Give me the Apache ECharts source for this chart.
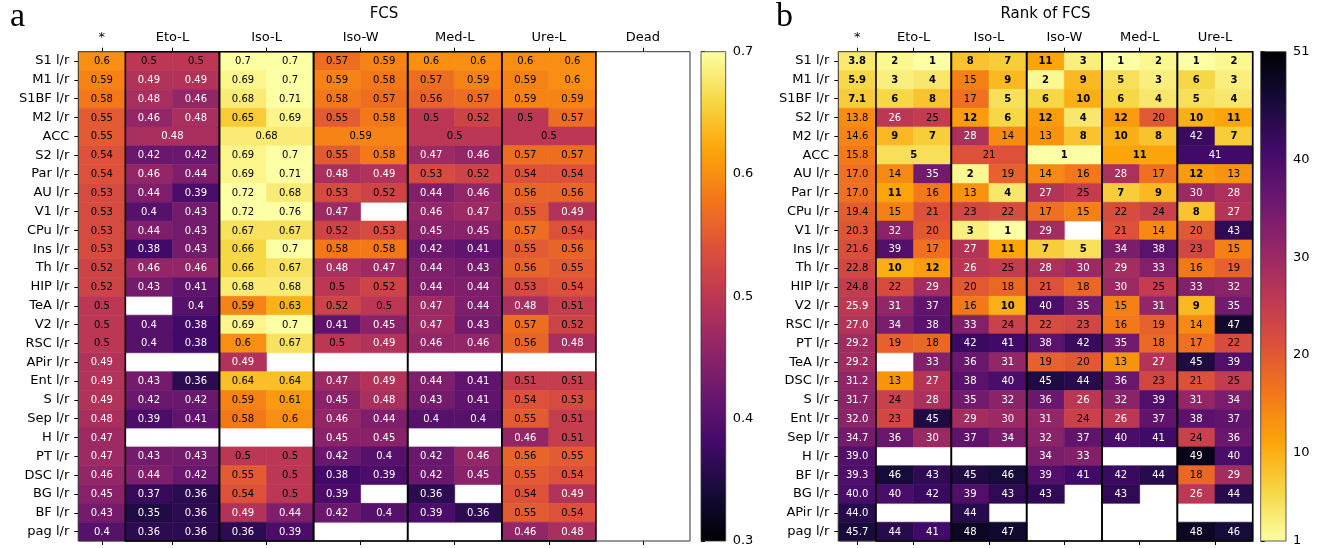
<!DOCTYPE html>
<html>
<head>
<meta charset="utf-8">
<script src="https://cdn.jsdelivr.net/npm/echarts@6/dist/echarts.min.js"></script>
<style>
  html, body { margin: 0; padding: 0; background: #fff; }
  #chart { width: 1320px; height: 548px; }
</style>
</head>
<body>
<div id="chart"></div>
<script>
// ---------- Panel a: FCS ----------
const fcsRows = ['S1 l/r','M1 l/r','S1BF l/r','M2 l/r','ACC','S2 l/r','Par l/r','AU l/r','V1 l/r','CPu l/r',
  'Ins l/r','Th l/r','HIP l/r','TeA l/r','V2 l/r','RSC l/r','APir l/r','Ent l/r','S l/r','Sep l/r',
  'H l/r','PT l/r','DSC l/r','BG l/r','BF l/r','pag l/r'];
const fcsGroupNames = ['Eto-L','Iso-L','Iso-W','Med-L','Ure-L','Dead'];
const fcsAll = [0.6,0.59,0.58,0.55,0.55,0.54,0.54,0.53,0.53,0.53,0.53,0.52,0.52,0.5,0.5,0.5,0.49,0.49,0.49,0.48,
  0.47,0.47,0.46,0.45,0.43,0.4];
// a pair = left / right hemisphere, a single number = one bilateral value
const fcsEtoL = [[0.5,0.5],[0.49,0.49],[0.48,0.46],[0.46,0.48],0.48,[0.42,0.42],[0.46,0.44],[0.44,0.39],[0.4,0.43],[0.44,0.43],
  [0.38,0.43],[0.46,0.46],[0.43,0.41],[null,0.4],[0.4,0.38],[0.4,0.38],[null,null],[0.43,0.36],[0.42,0.42],[0.39,0.41],
  [null,null],[0.43,0.43],[0.44,0.42],[0.37,0.36],[0.35,0.36],[0.36,0.36]];
const fcsIsoL = [[0.7,0.7],[0.69,0.7],[0.68,0.71],[0.65,0.69],0.68,[0.69,0.7],[0.69,0.71],[0.72,0.68],[0.72,0.76],[0.67,0.67],
  [0.66,0.7],[0.66,0.67],[0.68,0.68],[0.59,0.63],[0.69,0.7],[0.6,0.67],[0.49,null],[0.64,0.64],[0.59,0.61],[0.58,0.6],
  [null,null],[0.5,0.5],[0.55,0.5],[0.54,0.5],[0.49,0.44],[0.36,0.39]];
const fcsIsoW = [[0.57,0.59],[0.59,0.58],[0.58,0.57],[0.55,0.58],0.59,[0.55,0.58],[0.48,0.49],[0.53,0.52],[0.47,null],[0.52,0.53],
  [0.58,0.58],[0.48,0.47],[0.5,0.52],[0.52,0.5],[0.41,0.45],[0.5,0.49],[null,null],[0.47,0.49],[0.45,0.48],[0.46,0.44],
  [0.45,0.45],[0.42,0.4],[0.38,0.39],[0.39,null],[0.42,0.4],[null,null]];
const fcsMedL = [[0.6,0.6],[0.57,0.59],[0.56,0.57],[0.5,0.52],0.5,[0.47,0.46],[0.53,0.52],[0.44,0.46],[0.46,0.47],[0.45,0.45],
  [0.42,0.41],[0.44,0.43],[0.44,0.44],[0.47,0.44],[0.47,0.43],[0.46,0.46],[null,null],[0.44,0.41],[0.43,0.41],[0.4,0.4],
  [null,null],[0.42,0.46],[0.42,0.45],[0.36,null],[0.39,0.36],[null,null]];
const fcsUreL = [[0.6,0.6],[0.59,0.6],[0.59,0.59],[0.5,0.57],0.5,[0.57,0.57],[0.54,0.54],[0.56,0.56],[0.55,0.49],[0.57,0.54],
  [0.55,0.56],[0.56,0.55],[0.53,0.54],[0.48,0.51],[0.57,0.52],[0.56,0.48],[null,null],[0.51,0.51],[0.54,0.53],[0.55,0.51],
  [0.46,0.51],[0.56,0.55],[0.55,0.54],[0.54,0.49],[0.55,0.54],[0.46,0.48]];
const fcsDead = fcsRows.map(() => [null, null]);
const fcsTicks = [0.3, 0.4, 0.5, 0.6, 0.7];

// ---------- Panel b: rank of FCS ----------
const rankRows = ['S1 l/r','M1 l/r','S1BF l/r','S2 l/r','M2 l/r','ACC','AU l/r','Par l/r','CPu l/r','V1 l/r',
  'Ins l/r','Th l/r','HIP l/r','V2 l/r','RSC l/r','PT l/r','TeA l/r','DSC l/r','S l/r','Ent l/r',
  'Sep l/r','H l/r','BF l/r','BG l/r','APir l/r','pag l/r'];
const rankGroupNames = ['Eto-L','Iso-L','Iso-W','Med-L','Ure-L'];
const rankAll = [3.8,5.9,7.1,13.8,14.6,15.8,17.0,17.0,19.4,20.3,21.6,22.8,24.8,25.9,27.0,29.2,29.2,31.2,31.7,32.0,
  34.7,39.0,39.3,40.0,44.0,45.7];
const rankEtoL = [[2,1],[3,4],[6,8],[26,25],[9,7],5,[14,35],[11,16],[15,21],[32,20],
  [39,17],[10,12],[22,29],[31,37],[34,38],[19,18],[null,33],[13,27],[24,28],[23,45],
  [36,30],[null,null],[46,43],[40,42],[null,null],[44,41]];
const rankIsoL = [[8,7],[15,9],[17,5],[12,6],[28,14],21,[2,19],[13,4],[23,22],[3,1],
  [27,11],[26,25],[20,18],[16,10],[33,24],[42,41],[36,31],[38,40],[35,32],[29,30],
  [37,34],[null,null],[45,46],[39,43],[44,null],[48,47]];
const rankIsoW = [[11,3],[2,9],[6,10],[12,4],[13,8],1,[14,16],[27,25],[17,15],[29,null],
  [7,5],[28,30],[21,18],[40,35],[22,23],[38,42],[19,20],[45,44],[36,26],[31,24],
  [32,37],[34,33],[39,41],[43,null],[null,null],[null,null]];
const rankMedL = [[1,2],[5,3],[6,4],[12,20],[10,8],11,[28,17],[7,9],[22,24],[21,14],
  [34,38],[29,33],[30,25],[15,31],[16,19],[35,18],[13,27],[36,23],[32,39],[26,37],
  [40,41],[null,null],[42,44],[43,null],[null,null],[null,null]];
const rankUreL = [[1,2],[6,3],[5,4],[10,11],[42,7],41,[12,13],[30,28],[8,27],[20,43],
  [23,15],[16,19],[33,32],[9,35],[14,47],[17,22],[45,39],[21,25],[31,34],[38,37],
  [24,36],[49,40],[18,29],[26,44],[null,null],[48,46]];
const rankTicks = [1, 10, 20, 30, 40, 51];

// ---------- colour map (inferno) ----------
const INFERNO = ['#000004','#160b39','#420a68','#6a176e','#932667','#bc3754',
  '#dd513a','#f37819','#fca50a','#f6d746','#fcffa4'];
function hexRgb(h) { return [1,3,5].map(i => parseInt(h.substr(i, 2), 16)); }
const INFERNO_RGB = INFERNO.map(hexRgb);
function inferno(t) {
  t = Math.max(0, Math.min(1, t));
  const s = t * (INFERNO_RGB.length - 1);
  const i = Math.min(Math.floor(s), INFERNO_RGB.length - 2);
  const f = s - i;
  const a = INFERNO_RGB[i], b = INFERNO_RGB[i + 1];
  const c = a.map((v, k) => Math.round(v + (b[k] - v) * f));
  return 'rgb(' + c.join(',') + ')';
}
function gradientStops(reverse) {
  const stops = [];
  for (let i = 0; i <= 40; i++) {
    const o = i / 40;
    stops.push({ offset: o, color: inferno(reverse ? o : 1 - o) });
  }
  return stops;
}

// ---------- cell items: [x0, x1, row, value, isStarColumn] ----------
function buildCells(allCol, groups) {
  const items = [];
  allCol.forEach((v, r) => items.push([0, 1, r, v, 1]));
  groups.forEach((g, gi) => {
    const x = 1 + gi * 2;
    g.forEach((cell, r) => {
      if (Array.isArray(cell)) {
        if (cell[0] != null) items.push([x, x + 1, r, cell[0], 0]);
        if (cell[1] != null) items.push([x + 1, x + 2, r, cell[1], 0]);
      } else if (cell != null) {
        items.push([x, x + 2, r, cell, 0]);
      }
    });
  });
  return items;
}
function groupFrames(nGroups) {
  const items = [];
  for (let gi = 0; gi < nGroups; gi++) items.push([1 + gi * 2, 3 + gi * 2, 0]);
  return items;
}

const FONT = '"DejaVu Sans", "Liberation Sans", sans-serif';

function cellRenderer(norm, isDark, fmt, isBold) {
  return function (params, api) {
    const x0 = api.value(0), x1 = api.value(1), r = api.value(2), v = api.value(3), star = api.value(4);
    const a = api.coord([x0, r]), b = api.coord([x1, r]);
    const h = api.size([0, 1])[1];
    const fill = inferno(norm(v));
    return {
      type: 'group',
      children: [
        { type: 'rect', shape: { x: a[0], y: a[1] - h / 2, width: b[0] - a[0], height: h },
          style: { fill: fill, stroke: fill, lineWidth: 0.6 } },
        { type: 'text', x: (a[0] + b[0]) / 2, y: a[1] + 0.5,
          style: { text: fmt(v, star), fill: isDark(v) ? '#000' : '#fff',
                   font: (isBold(v) ? 'bold ' : '') + '10px ' + FONT,
                   align: 'center', verticalAlign: 'middle' } }
      ]
    };
  };
}
function frameRenderer(nRows, totalCols) {
  return function (params, api) {
    const x0 = api.value(0), x1 = api.value(1);
    const a = api.coord([x0, 0]), b = api.coord([x1, nRows - 1]);
    const h = api.size([0, 1])[1];
    const outer = (x0 === 0 && x1 === totalCols);
    return { type: 'rect', z2: outer ? 5 : 10,
      shape: { x: a[0], y: a[1] - h / 2, width: b[0] - a[0], height: b[1] - a[1] + h },
      style: { fill: null, stroke: outer ? '#333' : '#000', lineWidth: outer ? 1 : 1.6 } };
  };
}
function colorbarRenderer(reverse) {
  return function (params, api) {
    const a = api.coord([api.value(0), api.value(3)]);
    const b = api.coord([api.value(1), api.value(2)]);
    return { type: 'rect',
      shape: { x: a[0], y: a[1], width: b[0] - a[0], height: b[1] - a[1] },
      style: { fill: new echarts.graphic.LinearGradient(0, 0, 0, 1, gradientStops(reverse)),
               stroke: '#333', lineWidth: 0.8 } };
  };
}

// column label positions (centre of each column block)
function colPositions(nGroups) {
  const p = [0.5];
  for (let gi = 0; gi < nGroups; gi++) p.push(2 + gi * 2);
  return p;
}
const fcsPos = colPositions(fcsGroupNames.length);
const fcsNames = ['*'].concat(fcsGroupNames);
const rankPos = colPositions(rankGroupNames.length);
const rankNames = ['*'].concat(rankGroupNames);
function nameAt(pos, names) {
  return v => { const i = pos.findIndex(p => Math.abs(p - v) < 1e-6); return i >= 0 ? names[i] : ''; };
}

const fcsCols = 1 + fcsGroupNames.length * 2;
const rankCols = 1 + rankGroupNames.length * 2;

const GRID_TOP = 51.7, GRID_H = 489.3;

function topAxis(gridIndex, max, pos, names) {
  return { gridIndex, type: 'value', min: 0, max, position: 'top',
    axisLine: { show: false }, splitLine: { show: false },
    axisTick: { show: true, customValues: pos, length: 4, lineStyle: { color: '#000', width: 1 } },
    axisLabel: { customValues: pos, formatter: nameAt(pos, names), fontSize: 13, fontFamily: FONT, color: '#000', margin: 8 } };
}
function bottomAxis(gridIndex, max, pos) {
  return { gridIndex, type: 'value', min: 0, max, position: 'bottom',
    axisLine: { show: false }, splitLine: { show: false },
    axisTick: { show: true, customValues: pos, length: 4, lineStyle: { color: '#000', width: 1 } },
    axisLabel: { show: false } };
}
function rowAxis(gridIndex, rows) {
  return { gridIndex, type: 'category', data: rows, inverse: true,
    axisLine: { show: false }, splitLine: { show: false },
    axisTick: { show: true, alignWithLabel: true, length: 4, lineStyle: { color: '#000', width: 1 } },
    axisLabel: { fontSize: 13, fontFamily: FONT, color: '#000', margin: 9 } };
}
function barAxis(gridIndex, min, max, ticks, fmt) {
  return { gridIndex, type: 'value', min, max, position: 'right',
    axisLine: { show: false }, splitLine: { show: false },
    axisTick: { show: true, customValues: ticks, length: 4, lineStyle: { color: '#000', width: 1 } },
    axisLabel: { customValues: ticks, formatter: fmt, fontSize: 13, fontFamily: FONT, color: '#000', margin: 7 } };
}
function hiddenAxis(gridIndex) {
  return { gridIndex, type: 'value', min: 0, max: 1, show: false };
}

const chart = echarts.init(document.getElementById('chart'), null, { renderer: 'canvas' });
chart.setOption({
  animation: false,
  backgroundColor: '#fff',
  grid: [
    { left: 78.3, top: GRID_TOP, width: 611.7, height: GRID_H },
    { left: 701, top: GRID_TOP, width: 24.7, height: GRID_H },
    { left: 838.3, top: GRID_TOP, width: 414.4, height: GRID_H },
    { left: 1260.7, top: GRID_TOP, width: 25.3, height: GRID_H }
  ],
  xAxis: [
    topAxis(0, fcsCols, fcsPos, fcsNames),
    bottomAxis(0, fcsCols, fcsPos),
    hiddenAxis(1),
    topAxis(2, rankCols, rankPos, rankNames),
    bottomAxis(2, rankCols, rankPos),
    hiddenAxis(3)
  ],
  yAxis: [
    rowAxis(0, fcsRows),
    barAxis(1, 0.3, 0.7, fcsTicks, v => v.toFixed(1)),
    rowAxis(2, rankRows),
    barAxis(3, 1, 51, rankTicks, v => String(Math.round(v)))
  ],
  graphic: [
    { type: 'text', left: null, x: 10, y: 17.5, style: { text: 'a', font: '34px "Liberation Serif", serif', fill: '#000', align: 'left', verticalAlign: 'middle' } },
    { type: 'text', x: 776, y: 17.5, style: { text: 'b', font: '34px "Liberation Serif", serif', fill: '#000', align: 'left', verticalAlign: 'middle' } },
    { type: 'text', x: 384, y: 14, style: { text: 'FCS', font: '15px ' + FONT, fill: '#000', align: 'center', verticalAlign: 'middle' } },
    { type: 'text', x: 1045.5, y: 14, style: { text: 'Rank of FCS', font: '15px ' + FONT, fill: '#000', align: 'center', verticalAlign: 'middle' } }
  ],
  series: [
    { type: 'custom', name: 'FCS', xAxisIndex: 0, yAxisIndex: 0,
      encode: { x: [0, 1], y: 2 },
      data: buildCells(fcsAll, [fcsEtoL, fcsIsoL, fcsIsoW, fcsMedL, fcsUreL, fcsDead]),
      renderItem: cellRenderer(v => (v - 0.3) / 0.4, v => v >= 0.5, v => String(v), () => false) },
    { type: 'custom', name: 'FCS blocks', xAxisIndex: 0, yAxisIndex: 0, z: 3,
      encode: { x: [0, 1], y: 2 },
      data: groupFrames(fcsGroupNames.length - 1).concat([[0, fcsCols, 0]]),
      renderItem: frameRenderer(fcsRows.length, fcsCols) },
    { type: 'custom', name: 'FCS scale', xAxisIndex: 2, yAxisIndex: 1,
      encode: { x: [0, 1], y: [2, 3] },
      data: [[0, 1, 0.3, 0.7]],
      renderItem: colorbarRenderer(false) },
    { type: 'custom', name: 'Rank of FCS', xAxisIndex: 3, yAxisIndex: 2,
      encode: { x: [0, 1], y: 2 },
      data: buildCells(rankAll, [rankEtoL, rankIsoL, rankIsoW, rankMedL, rankUreL]),
      renderItem: cellRenderer(v => 1 - (v - 1) / 50, v => v <= 25.5,
        (v, star) => star ? v.toFixed(1) : String(v), v => v <= 12) },
    { type: 'custom', name: 'Rank blocks', xAxisIndex: 3, yAxisIndex: 2, z: 3,
      encode: { x: [0, 1], y: 2 },
      data: groupFrames(rankGroupNames.length).concat([[0, rankCols, 0]]),
      renderItem: frameRenderer(rankRows.length, rankCols) },
    { type: 'custom', name: 'Rank scale', xAxisIndex: 5, yAxisIndex: 3,
      encode: { x: [0, 1], y: [2, 3] },
      data: [[0, 1, 1, 51]],
      renderItem: colorbarRenderer(true) }
  ]
});
</script>
</body>
</html>
